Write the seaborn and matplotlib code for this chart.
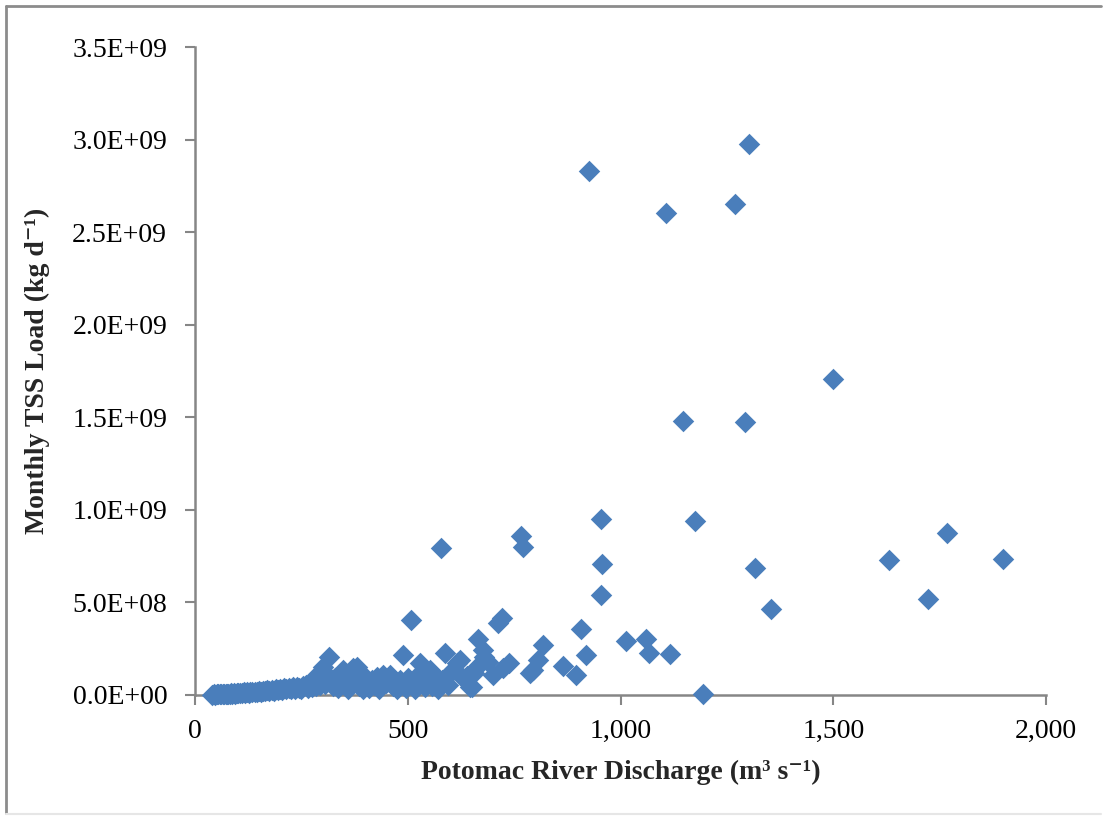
import numpy as np
import matplotlib.pyplot as plt
import seaborn as sns
import pandas as pd
from matplotlib.lines import Line2D
from matplotlib.ticker import FuncFormatter, MultipleLocator

# Potomac River discharge (m3/s) and monthly TSS load (units of 1e8 kg/d)
discharge = [
    40, 45, 48, 52, 55, 58, 62, 65, 68, 72, 75, 78, 82, 85, 88, 92, 95, 98,
    102, 105, 110, 115, 118, 122, 126, 130, 135, 140, 145, 150, 155, 160,
    165, 170, 175, 180, 185, 190, 195, 200, 205, 210, 215, 220, 225, 230,
    235, 240, 245, 250, 255, 260, 265, 270, 275, 280, 285, 290, 295, 300,
    305, 310, 316, 302, 286, 320, 325, 330, 335, 340, 345, 349, 355, 360,
    365, 372, 380, 385, 390, 395, 400, 405, 410, 415, 420, 427, 433, 443,
    450, 458, 465, 470, 475, 482, 488, 490, 495, 500, 508, 512, 518, 522,
    529, 535, 540, 546, 552, 558, 565, 570, 577, 580, 588, 595, 600, 607,
    615, 623, 630, 640, 646, 650, 655, 662, 665, 678, 680, 689, 701, 711,
    722, 725, 737, 767, 772, 787, 795, 807, 819, 864, 895, 906, 920, 925,
    953, 954, 956, 1012, 1061, 1067, 1107, 1117, 1147, 1176, 1193, 1268,
    1292, 1303, 1316, 1353, 1499, 1630, 1722, 1768, 1898,
]
tss_load_e8 = [
    0.02, 0.03, 0.02, 0.04, 0.03, 0.05, 0.04, 0.06, 0.05, 0.07, 0.06, 0.08,
    0.05, 0.09, 0.07, 0.10, 0.08, 0.11, 0.09, 0.12, 0.10, 0.14, 0.11, 0.15,
    0.13, 0.17, 0.14, 0.18, 0.16, 0.20, 0.17, 0.22, 0.19, 0.25, 0.21, 0.27,
    0.23, 0.30, 0.26, 0.33, 0.28, 0.36, 0.30, 0.40, 0.33, 0.42, 0.35, 0.45,
    0.38, 0.30, 0.48, 0.55, 0.40, 0.60, 0.45, 0.65, 0.50, 0.80, 0.55, 1.00,
    0.60, 1.10, 2.07, 1.53, 1.08, 0.70, 0.50, 0.90, 0.40, 0.75, 1.20, 1.35,
    0.60, 0.30, 0.85, 1.44, 1.53, 0.50, 0.70, 0.30, 0.95, 0.60, 0.40, 0.80,
    0.55, 0.99, 0.35, 1.08, 0.65, 1.08, 0.50, 0.75, 0.30, 0.81, 0.55, 2.16,
    0.40, 0.90, 4.05, 0.60, 0.35, 1.00, 1.71, 0.70, 0.45, 0.85, 1.35, 0.50,
    1.00, 0.30, 7.94, 0.80, 2.25, 0.55, 1.20, 1.35, 1.71, 1.90, 0.90, 1.00,
    0.45, 0.45, 1.20, 1.53, 3.02, 2.43, 2.07, 1.80, 1.08, 3.90, 4.15, 1.44,
    1.71, 8.59, 8.00, 1.20, 1.35, 1.90, 2.70, 1.58, 1.08, 3.55, 2.16, 28.32,
    9.52, 5.40, 7.07, 2.90, 3.04, 2.25, 26.05, 2.21, 14.81, 9.40, 0.05, 26.50,
    14.76, 29.76, 6.86, 4.66, 17.07, 7.31, 5.17, 8.77, 7.36,
]

df = pd.DataFrame({"discharge": discharge,
                   "load": np.array(tss_load_e8) * 1e8})

sns.set_style("white")
plt.rcParams["font.family"] = ["Liberation Serif", "DejaVu Serif"]

fig = plt.figure(figsize=(11.04, 8.16), dpi=100)
ax = fig.add_axes([0.1766, 0.1483, 0.7709, 0.7941])

sns.scatterplot(data=df, x="discharge", y="load", marker="D", s=120,
                color="#4A7EBB", linewidth=0, ax=ax, zorder=3, clip_on=False)

ax.set_xlim(0, 2000)
ax.set_ylim(0, 3.5e9)
ax.xaxis.set_major_locator(MultipleLocator(500))
ax.yaxis.set_major_locator(MultipleLocator(5e8))
ax.xaxis.set_major_formatter(FuncFormatter(lambda v, p: f"{v:,.0f}"))
ax.yaxis.set_major_formatter(FuncFormatter(lambda v, p: f"{v:.1E}"))

for side in ["top", "right"]:
    ax.spines[side].set_visible(False)
for side in ["left", "bottom"]:
    ax.spines[side].set_color("#868686")
    ax.spines[side].set_linewidth(1.8)
ax.tick_params(axis="both", direction="out", length=7, width=1.5,
               color="#868686", labelsize=20, labelcolor="black")
ax.tick_params(axis="y", pad=13, left=True)
ax.tick_params(axis="x", pad=10, bottom=True)

ax.set_xlabel("Potomac River Discharge (m³ s⁻¹)", fontsize=20,
              fontweight="bold", labelpad=12)
ax.set_ylabel("Monthly TSS Load (kg d⁻¹)", fontsize=20,
              fontweight="bold", labelpad=16)

# chart area border
fig.add_artist(Line2D([6 / 1104, 6 / 1104], [3 / 816, 810 / 816],
                      transform=fig.transFigure, color="#8c8c8c", lw=2))
fig.add_artist(Line2D([6 / 1104, 1101 / 1104], [810 / 816, 810 / 816],
                      transform=fig.transFigure, color="#8c8c8c", lw=2))
fig.add_artist(Line2D([6 / 1104, 1101 / 1104], [2 / 816, 2 / 816],
                      transform=fig.transFigure, color="#e6e6e6", lw=1.5))

fig.savefig("out.png", dpi=100)
